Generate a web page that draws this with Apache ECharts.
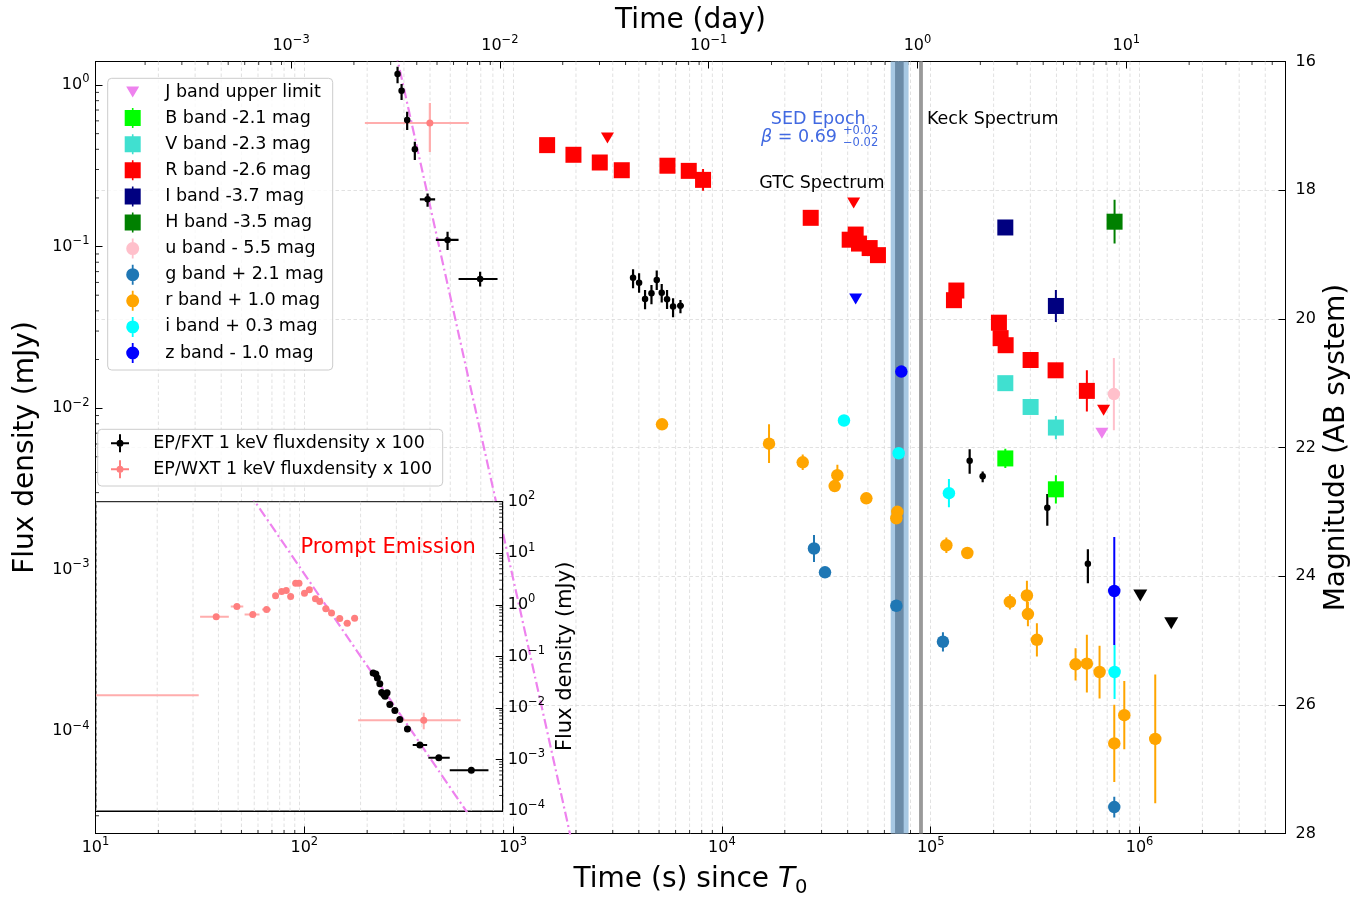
<!DOCTYPE html>
<html>
<head>
<meta charset="utf-8">
<title>Light curve</title>
<script src="https://cdn.jsdelivr.net/npm/echarts@6.0.0/dist/echarts.min.js"></script>
<style>
html,body{margin:0;padding:0;background:#ffffff;}
#chart{width:1369px;height:897px;}
</style>
</head>
<body>
<div id="chart"></div>
<script>
// ================= DATA =================
// axis ranges
var timeRange = [10, 5e6];            // seconds since T0
var fluxRange = [2.33e-5, 1.398];     // mJy
var magRange = [16, 28];              // AB mag
var insetTimeRange = [10, 1000];
var insetFluxRange = [1e-4, 100];
var SEC_PER_DAY = 86400;

// optical photometry: [time (s), AB magnitude, mag error]
var jUpper = [[660100, 21.78]];
var bandB = [[227600, 22.17, 0.15], [397500, 22.65, 0.22]];
var bandV = [[227600, 21.00], [300800, 21.37], [397500, 21.69, 0.18]];
var bandR = [[1455, 17.30], [1945, 17.45], [2600, 17.57], [3314, 17.69], [5484, 17.62], [6936, 17.70],
  [8121, 17.84, 0.17], [26620, 18.43], [40910, 18.77], [43700, 18.69], [45320, 18.83], [50990, 18.90],
  [55870, 19.01], [132640, 19.56], [129170, 19.71], [212100, 20.06], [216100, 20.30], [228400, 20.41],
  [300800, 20.64], [396200, 20.80], [559400, 21.12, 0.32]];
var rUpper = [[2830, 17.19], [42740, 18.20], [672500, 21.42]];
var bandI = [[227600, 18.58], [397500, 19.80, 0.25]];
var bandH = [[759200, 18.49, 0.34]];
var bandu = [[753400, 21.17, 0.56]];
var bandg = [[27600, 23.57, 0.21], [31160, 23.94], [68440, 24.46], [114400, 25.02, 0.15], [756800, 27.59, 0.16]];
var bandr = [[5166, 21.64], [16810, 21.94, 0.30], [24370, 22.23, 0.12], [35720, 22.43, 0.16], [34670, 22.60],
  [49160, 22.79], [69200, 23.00, 0.05], [68440, 23.10], [118800, 23.52, 0.12], [149700, 23.64],
  [239400, 24.40, 0.12], [288800, 24.30, 0.23], [292000, 24.59, 0.19], [322400, 24.99, 0.26],
  [493900, 25.37, 0.25], [559400, 25.36, 0.45], [643400, 25.49, 0.41], [756800, 26.60, 0.60],
  [845100, 26.16, 0.53], [1189000, 26.53, 1.00]];
var bandi = [[38420, 21.58], [70200, 22.09], [122200, 22.71, 0.22], [759200, 25.49, 0.42]];
var bandz = [[72320, 20.82], [756800, 24.23, 0.84]];
var zUpper = [[43700, 19.69]];

// X-ray flux density x100: [t, F (mJy), F low, F high, t low, t high]
var fxt = [[279.6, 1.170, 1.024, 1.298], [292.3, 0.922, 0.808, 1.014], [310.9, 0.607, 0.527, 0.683],
  [338.3, 0.400, 0.3436, 0.4456], [389.3, 0.1962, 0.1765, 0.2130, 357.6, 423.2],
  [485.3, 0.1099, 0.0953, 0.1234, 426.4, 547.9], [695.0, 0.0630, 0.0566, 0.0698, 547.9, 842.1],
  [3753, 0.0642, 0.0552, 0.0724], [4011, 0.0598, 0.0518, 0.0684], [4284, 0.0474, 0.0409, 0.0539],
  [4598, 0.0514, 0.0440, 0.0579], [4873, 0.0621, 0.0539, 0.0710], [5148, 0.0518, 0.0450, 0.0587],
  [5460, 0.0472, 0.0411, 0.0539], [5834, 0.0425, 0.0365, 0.0479], [6329, 0.0431, 0.0387, 0.0467, 6100, 6570],
  [153600, 4.73e-3, 3.92e-3, 5.57e-3], [177300, 3.79e-3, 3.48e-3, 4.05e-3],
  [361600, 2.42e-3, 1.87e-3, 2.94e-3], [565600, 1.09e-3, 8.25e-4, 1.34e-3]];
var fxtUpper = [[1008000, 6.92e-4], [1418000, 4.67e-4]];
var wxt = [[399.3, 0.582, 0.385, 0.774, 195.0, 613.7]];
var modelTime = [250, 1900];
var modelFlux = [2.736, 2.13e-5];

// inset (prompt emission): [t, F (mJy), F low, F high, t low, t high]
var insetWxt = [[5, 0.0175, null, null, 1, 32], [39, 0.589, 0.54, 0.64, 32.5, 45], [49.3, 0.93, 0.85, 1.02, 46, 53],
  [59, 0.65, 0.59, 0.71, 53.8, 63.7], [69, 0.81, 0.74, 0.89, 65.5, 72.5], [76.4, 1.50, 1.37, 1.64, 74, 79],
  [81.8, 1.81, 1.65, 1.98, 79.5, 84], [86.2, 1.90, 1.73, 2.08, 84, 88.5], [90.6, 1.45, 1.32, 1.59, 88.5, 93],
  [95.9, 2.63, 2.40, 2.88, 93.5, 98], [99.6, 2.63, 2.40, 2.88, 98, 101.5], [106, 1.68, 1.53, 1.84, 103, 109],
  [112, 1.96, 1.79, 2.15, 109, 115], [120, 1.31, 1.19, 1.43, 116, 124], [126, 1.16, 1.06, 1.27, 122, 130],
  [135, 0.84, 0.77, 0.92, 130, 140], [144, 0.69, 0.63, 0.76, 139, 149], [158, 0.54, 0.49, 0.59, 152, 164],
  [172, 0.44, 0.40, 0.48, 165, 179], [187, 0.55, 0.50, 0.60, 180, 194],
  [409, 0.00573, 0.00384, 0.00804, 194.5, 621]];
var insetFxt = [[230.6, 0.0478], [237.7, 0.0457], [242, 0.0382], [248.7, 0.0293], [254, 0.0200], [260, 0.0182],
  [264, 0.0169], [270, 0.0196], [278.6, 0.01167], [295, 0.00893], [312, 0.00598], [340, 0.00389],
  [391.5, 0.00190, null, null, 361, 425], [485, 0.00108, null, null, 431, 549], [701, 0.000618, null, null, 549, 851]];
var insetModelTime = [50, 800];
var insetModelFlux = [302.7, 3.33e-5];

// epochs
var sedBand = [64300, 78300];
var sedCore = [67470, 74190];
var keckTime = 90040;

// annotation texts anchored in data coordinates (time, magnitude)
var annotationText = ['SED Epoch', '{i|\u03b2} = 0.69', '+0.02', '\u22120.02', 'GTC Spectrum', 'Keck Spectrum'];
var annotationTime = [28910, 35560, 37990, 37990, 30110, 95900];
var annotationMag = [16.894, 17.174, 17.085, 17.264, 17.889, 16.894];
var insetText = ['Prompt Emission'];
var insetTextTime = [101.2];
var insetTextFlux = [12.88];

// ================= STYLE =================
var FONT = 'DejaVu Sans';
var GRID_COLOR = '#d9d9d9';
var DASH = [3.5, 2.5];
var TICK_FS = 16;

var annotationStyle = [
  {color: '#4169e1', size: 17.5, align: 'center'},
  {color: '#4169e1', size: 17.5, align: 'right'},
  {color: '#4169e1', size: 11.5, align: 'left'},
  {color: '#4169e1', size: 11.5, align: 'left'},
  {color: '#000000', size: 17.5, align: 'center'},
  {color: '#000000', size: 17.5, align: 'left'}
];

function powLabel(v) {
  var lg = Math.log10(v), n = Math.round(lg);
  if (Math.abs(lg - n) > 1e-6) return '';
  var e = n < 0 ? '\u2212' + (-n) : '' + n;
  return '{b|10}{s|' + e + '}';
}
var richPow = {
  b: {fontSize: TICK_FS, fontFamily: FONT, color: '#000'},
  s: {fontSize: 11.5, fontFamily: FONT, color: '#000', padding: [0, 0, 11, 0]}
};

function minorValues(lo, hi) {
  var out = [];
  for (var e = Math.floor(Math.log10(lo)) - 1; e <= Math.ceil(Math.log10(hi)); e++) {
    for (var k = 2; k <= 9; k++) {
      var v = k * Math.pow(10, e);
      if (v > lo * 1.0001 && v < hi * 0.9999) out.push(v);
    }
  }
  return out;
}

var blackLine = {show: true, lineStyle: {color: '#000', width: 1}};

// ---- decoration series (minor grid lines / minor ticks) ----
function xMinorSeries(values, xi, yi, yRef, z, withGrid, tickAtTop, tickLen) {
  return {
    type: 'custom', xAxisIndex: xi, yAxisIndex: yi, z: z, silent: true, clip: false,
    data: values.map(function (v) { return [v, yRef]; }),
    renderItem: function (params, api) {
      var cs = params.coordSys;
      var x = api.coord([api.value(0), yRef])[0];
      var top = cs.y, bottom = cs.y + cs.height;
      var ch = [];
      if (withGrid) ch.push({type: 'line', shape: {x1: x, y1: top, x2: x, y2: bottom},
        style: {stroke: GRID_COLOR, lineWidth: 0.8, lineDash: DASH}});
      if (tickLen > 0) {
        if (tickAtTop) ch.push({type: 'line', shape: {x1: x, y1: top, x2: x, y2: top + tickLen}, style: {stroke: '#000', lineWidth: 0.8}});
        else ch.push({type: 'line', shape: {x1: x, y1: bottom, x2: x, y2: bottom - tickLen}, style: {stroke: '#000', lineWidth: 0.8}});
      }
      return {type: 'group', children: ch};
    }
  };
}
function yMinorSeries(values, xi, yi, xRef, z, atRight) {
  return {
    type: 'custom', xAxisIndex: xi, yAxisIndex: yi, z: z, silent: true, clip: false,
    data: values.map(function (v) { return [xRef, v]; }),
    renderItem: function (params, api) {
      var cs = params.coordSys;
      var y = api.coord([xRef, api.value(1)])[1];
      var x0 = atRight ? cs.x + cs.width : cs.x;
      var x1 = atRight ? x0 - 3.5 : x0 + 3.5;
      return {type: 'line', shape: {x1: x0, y1: y, x2: x1, y2: y}, style: {stroke: '#000', lineWidth: 0.8}};
    }
  };
}

// ---- error bars ----
function errItemsMag(arr, color) {
  return arr.filter(function (d) { return d[2] != null; }).map(function (d) {
    return {t: d[0], y: d[1], lo: d[1] - d[2], hi: d[1] + d[2], color: color};
  });
}
function errItemsFlux(arr, color) {
  return arr.filter(function (d) { return d[2] != null || d[4] != null; }).map(function (d) {
    return {t: d[0], y: d[1], lo: d[2], hi: d[3], tlo: d[4], thi: d[5], color: color};
  });
}
function errSeries(items, xi, yi, lw, z) {
  return {
    type: 'custom', xAxisIndex: xi, yAxisIndex: yi, z: z, silent: true, clip: true,
    data: items.map(function (e) { return [e.t, e.y]; }),
    renderItem: function (params, api) {
      var e = items[params.dataIndex];
      var ch = [];
      if (e.lo != null) {
        var p1 = api.coord([e.t, e.lo]), p2 = api.coord([e.t, e.hi]);
        ch.push({type: 'line', shape: {x1: p1[0], y1: p1[1], x2: p2[0], y2: p2[1]}, style: {stroke: e.color, lineWidth: lw}});
      }
      if (e.tlo != null) {
        var q1 = api.coord([e.tlo, e.y]), q2 = api.coord([e.thi, e.y]);
        ch.push({type: 'line', shape: {x1: q1[0], y1: q1[1], x2: q2[0], y2: q2[1]}, style: {stroke: e.color, lineWidth: lw}});
      }
      return {type: 'group', children: ch};
    }
  };
}

function scatter(name, arr, xi, yi, color, symbol, size, z, extra) {
  var s = {
    type: 'scatter', name: name, xAxisIndex: xi, yAxisIndex: yi, z: z, silent: true, clip: true,
    data: arr.map(function (d) { return [d[0], d[1]]; }),
    symbol: symbol, symbolSize: size, itemStyle: {color: color, opacity: 1}
  };
  if (extra) for (var k in extra) s[k] = extra[k];
  return s;
}

function textSeries(texts, xs, ys, styles, xi, yi, z) {
  return {
    type: 'custom', xAxisIndex: xi, yAxisIndex: yi, z: z, silent: true, clip: false,
    data: texts.map(function (t, i) { return [xs[i], ys[i]]; }),
    renderItem: function (params, api) {
      var i = params.dataIndex, st = styles[i];
      var p = api.coord([xs[i], ys[i]]);
      return {type: 'text', x: p[0], y: p[1], style: {
        text: texts[i], fill: st.color, fontSize: st.size, fontFamily: FONT,
        align: st.align, verticalAlign: 'middle',
        rich: {i: {fontStyle: 'italic', fontSize: st.size, fontFamily: FONT, fill: st.color}}
      }};
    }
  };
}

// colours
var C = {J: '#ee82ee', B: '#00ff00', V: '#40e0d0', R: '#ff0000', I: '#000080', H: '#008000',
  u: '#ffc0cb', g: '#1f77b4', r: '#ffa500', i: '#00ffff', z: '#0000ff', fxt: '#000000',
  wxt: '#ff7f7f', wxtBar: '#ffadad'};

// legend icons, drawn in a (w x 20) box so that the marker sits at its centre
function pRect(x, y, w, h) { return 'M' + x + ',' + y + 'L' + (x + w) + ',' + y + 'L' + (x + w) + ',' + (y + h) + 'L' + x + ',' + (y + h) + 'Z '; }
function pCirc(cx, cy, r) { return 'M' + (cx - r) + ',' + cy + 'A' + r + ',' + r + ',0,1,1,' + (cx + r) + ',' + cy + 'A' + r + ',' + r + ',0,1,1,' + (cx - r) + ',' + cy + 'Z '; }
function pAnchor(w) { return 'M0,0L0.1,0L0,0.1Z M' + w + ',20L' + (w - 0.1) + ',20L' + w + ',19.9Z '; }
function iconTri(w) { var c = w / 2; return 'path://' + pAnchor(w) + 'M' + (c - 6.5) + ',4.5L' + (c + 6.5) + ',4.5L' + c + ',15.5Z'; }
function iconSq(w) { var c = w / 2; return 'path://' + pAnchor(w) + pRect(c - 8, 2, 16, 16) + pRect(c - 0.8, 0, 1.6, 2) + pRect(c - 0.8, 18, 1.6, 2); }
function iconCi(w) { var c = w / 2; return 'path://' + pAnchor(w) + pCirc(c, 10, 6.5) + pRect(c - 0.9, 0, 1.8, 3.8) + pRect(c - 0.9, 16.2, 1.8, 3.8); }
function iconX(w) { var c = w / 2; return 'path://' + pAnchor(w) + pCirc(c, 10, 3.5) + pRect(c - 1, 1, 2, 5.7) + pRect(c - 1, 13.3, 2, 5.7) + pRect(c - 9, 9, 5.7, 2) + pRect(c + 3.3, 9, 5.7, 2); }

var LW1 = 55, LW2 = 56.6;

var N = {J: 'J band upper limit', B: 'B band -2.1 mag', V: 'V band -2.3 mag', R: 'R band -2.6 mag',
  I: 'I band -3.7 mag', H: 'H band -3.5 mag', u: 'u band - 5.5 mag', g: 'g band + 2.1 mag',
  r: 'r band + 1.0 mag', i: 'i band + 0.3 mag', z: 'z band - 1.0 mag',
  fxt: 'EP/FXT 1 keV fluxdensity x 100', wxt: 'EP/WXT 1 keV fluxdensity x 100'};

var SQ = 16, CI = 12.5, TRI = [13, 11];
var down = {symbolRotate: 180};

var opticalErr = [].concat(
  errItemsMag(bandB, C.B), errItemsMag(bandV, C.V), errItemsMag(bandR, C.R), errItemsMag(bandI, C.I),
  errItemsMag(bandH, C.H), errItemsMag(bandu, C.u), errItemsMag(bandg, C.g), errItemsMag(bandr, C.r),
  errItemsMag(bandi, C.i), errItemsMag(bandz, C.z));
var xrayErr = [].concat(errItemsFlux(wxt, C.wxtBar), errItemsFlux(fxt, C.fxt));
var insetErr = [].concat(errItemsFlux(insetWxt, C.wxtBar), errItemsFlux(insetFxt, C.fxt));

var series = [
  xMinorSeries(minorValues(timeRange[0], timeRange[1]), 0, 0, 1e-2, 1, true, false, 3.5),
  xMinorSeries(minorValues(timeRange[0] / SEC_PER_DAY, timeRange[1] / SEC_PER_DAY), 1, 0, 1e-2, 1, false, true, 3.5),
  yMinorSeries(minorValues(fluxRange[0], fluxRange[1]), 0, 0, 100, 1, false),
  {
    type: 'line', name: 'epochs', xAxisIndex: 0, yAxisIndex: 0, z: 1.5, silent: true,
    data: [[1000, 1e-2]], symbol: 'none', lineStyle: {opacity: 0},
    markArea: {silent: true, z: 1.8, itemStyle: {opacity: 1}, data: [
      [{xAxis: sedBand[0], itemStyle: {color: '#a7c8e3', opacity: 1}}, {xAxis: sedBand[1]}],
      [{xAxis: sedCore[0], itemStyle: {color: '#6b8ba7', opacity: 1}}, {xAxis: sedCore[1]}]
    ]},
    markLine: {silent: true, z: 1.9, symbol: 'none', label: {show: false},
      lineStyle: {color: '#999999', width: 3.8, type: 'solid', opacity: 1}, data: [{xAxis: keckTime}]}
  },
  {
    type: 'line', name: 'model', xAxisIndex: 0, yAxisIndex: 0, z: 2, silent: true, clip: true,
    data: modelTime.map(function (t, i) { return [t, modelFlux[i]]; }), symbol: 'none',
    lineStyle: {color: C.J, width: 2.2, type: [10, 3.5, 2, 3.5]}
  },
  errSeries(xrayErr, 0, 0, 2.2, 2.5),
  errSeries(opticalErr, 0, 1, 2, 2.5),
  scatter(N.wxt, wxt, 0, 0, C.wxt, 'circle', 7, 3),
  scatter(N.fxt, fxt, 0, 0, C.fxt, 'circle', 6.5, 3),
  scatter('FXT upper limit', fxtUpper, 0, 0, C.fxt, 'triangle', [14, 12], 3, down),
  scatter(N.J, jUpper, 0, 1, C.J, 'triangle', TRI, 3, down),
  scatter(N.B, bandB, 0, 1, C.B, 'rect', SQ, 3),
  scatter(N.V, bandV, 0, 1, C.V, 'rect', SQ, 3),
  scatter(N.R, bandR, 0, 1, C.R, 'rect', SQ, 3),
  scatter('R band upper limit', rUpper, 0, 1, C.R, 'triangle', TRI, 3, down),
  scatter(N.I, bandI, 0, 1, C.I, 'rect', SQ, 3),
  scatter(N.H, bandH, 0, 1, C.H, 'rect', SQ, 3),
  scatter(N.u, bandu, 0, 1, C.u, 'circle', CI, 3),
  scatter(N.g, bandg, 0, 1, C.g, 'circle', CI, 3),
  scatter(N.r, bandr, 0, 1, C.r, 'circle', CI, 3),
  scatter(N.i, bandi, 0, 1, C.i, 'circle', CI, 3),
  scatter(N.z, bandz, 0, 1, C.z, 'circle', CI, 3),
  scatter('z band upper limit', zUpper, 0, 1, C.z, 'triangle', TRI, 3, down),
  textSeries(annotationText, annotationTime, annotationMag, annotationStyle, 0, 1, 4),
  // ---- inset ----
  xMinorSeries(minorValues(insetTimeRange[0], insetTimeRange[1]), 2, 2, 1, 7.5, true, false, 0),
  yMinorSeries(minorValues(insetFluxRange[0], insetFluxRange[1]), 2, 2, 100, 7.5, true),
  {
    type: 'line', name: 'inset model', xAxisIndex: 2, yAxisIndex: 2, z: 8, silent: true, clip: true,
    data: insetModelTime.map(function (t, i) { return [t, insetModelFlux[i]]; }), symbol: 'none',
    lineStyle: {color: C.J, width: 2.2, type: [10, 3.5, 2, 3.5]}
  },
  errSeries(insetErr, 2, 2, 2, 8.2),
  scatter('inset WXT', insetWxt, 2, 2, C.wxt, 'circle', 7, 8.5),
  scatter('inset FXT', insetFxt, 2, 2, C.fxt, 'circle', 7, 8.5),
  textSeries(insetText, insetTextTime, insetTextFlux, [{color: '#ff0000', size: 21, align: 'left'}], 2, 2, 9)
];

var legendText = {fontFamily: FONT, fontSize: 17.5, lineHeight: 20, color: '#000'};

var option = {
  animation: false,
  backgroundColor: '#ffffff',
  textStyle: {fontFamily: FONT},
  grid: [
    {left: 95.5, top: 61.5, width: 1190, height: 772, show: true, borderColor: '#000', borderWidth: 1,
      backgroundColor: 'transparent', containLabel: false, outerBoundsMode: 'none', z: 0},
    {left: 96, top: 501.7, width: 406.7, height: 309.3, show: true, borderColor: '#000', borderWidth: 1,
      backgroundColor: '#ffffff', containLabel: false, outerBoundsMode: 'none', z: 6}
  ],
  xAxis: [
    {type: 'log', gridIndex: 0, min: timeRange[0], max: timeRange[1], position: 'bottom',
      axisLine: blackLine, axisTick: {show: true, inside: true, length: 7, lineStyle: {color: '#000', width: 1}},
      axisLabel: {formatter: powLabel, rich: richPow, margin: 3, color: '#000'},
      splitLine: {show: true, lineStyle: {color: GRID_COLOR, width: 0.8, type: DASH}},
      name: 'Time (s) since {it|T}{sub|0}', nameLocation: 'middle', nameGap: 28, nameMoveOverlap: false,
      nameTextStyle: {fontSize: 28, fontFamily: FONT, color: '#000',
        rich: {it: {fontSize: 28, fontStyle: 'italic', fontFamily: FONT, color: '#000'},
          sub: {fontSize: 19.5, fontFamily: FONT, color: '#000', padding: [16, 0, 0, 0]}}}},
    {type: 'log', gridIndex: 0, min: timeRange[0] / SEC_PER_DAY, max: timeRange[1] / SEC_PER_DAY, position: 'top',
      axisLine: blackLine, axisTick: {show: true, inside: true, length: 7, lineStyle: {color: '#000', width: 1}},
      axisLabel: {formatter: powLabel, rich: richPow, margin: 4, color: '#000'},
      splitLine: {show: false},
      name: 'Time (day)', nameLocation: 'middle', nameGap: 27, nameMoveOverlap: false,
      nameTextStyle: {fontSize: 28, fontFamily: FONT, color: '#000'}},
    {type: 'log', gridIndex: 1, min: insetTimeRange[0], max: insetTimeRange[1], z: 7,
      axisLine: blackLine, axisTick: {show: false}, axisLabel: {show: false},
      splitLine: {show: true, lineStyle: {color: GRID_COLOR, width: 0.8, type: DASH}}}
  ],
  yAxis: [
    {type: 'log', gridIndex: 0, min: fluxRange[0], max: fluxRange[1], position: 'left',
      axisLine: blackLine, axisTick: {show: true, inside: true, length: 7, lineStyle: {color: '#000', width: 1}},
      axisLabel: {formatter: powLabel, rich: richPow, margin: 6, color: '#000'},
      splitLine: {show: false},
      name: 'Flux density (mJy)', nameLocation: 'middle', nameGap: 56, nameMoveOverlap: false,
      nameTextStyle: {fontSize: 28, fontFamily: FONT, color: '#000'}},
    {type: 'value', gridIndex: 0, min: magRange[0], max: magRange[1], interval: 2, inverse: true, position: 'right',
      axisLine: blackLine, axisTick: {show: true, inside: true, length: 7, lineStyle: {color: '#000', width: 1}},
      axisLabel: {fontSize: TICK_FS, fontFamily: FONT, color: '#000', margin: 10},
      splitLine: {show: true, lineStyle: {color: GRID_COLOR, width: 0.8, type: DASH}},
      name: 'Magnitude (AB system)', nameLocation: 'middle', nameGap: 37, nameMoveOverlap: false,
      nameTextStyle: {fontSize: 28, fontFamily: FONT, color: '#000'}},
    {type: 'log', gridIndex: 1, min: insetFluxRange[0], max: insetFluxRange[1], position: 'right', z: 7,
      axisLine: blackLine, axisTick: {show: true, inside: true, length: 7, lineStyle: {color: '#000', width: 1}},
      axisLabel: {formatter: powLabel, rich: richPow, margin: 5, color: '#000'},
      splitLine: {show: false},
      name: 'Flux density (mJy)', nameLocation: 'middle', nameGap: 52, nameMoveOverlap: false,
      nameTextStyle: {fontSize: 21, fontFamily: FONT, color: '#000'}}
  ],
  graphic: [
    {type: 'rect', z: 11, silent: true, shape: {x: 107.7, y: 78.3, width: 225, height: 291.7, r: 4},
      style: {fill: 'rgba(255,255,255,0.8)', stroke: '#cccccc', lineWidth: 1}},
    {type: 'rect', z: 11, silent: true, shape: {x: 97.7, y: 429.3, width: 345, height: 56.7, r: 4},
      style: {fill: 'rgba(255,255,255,0.8)', stroke: '#cccccc', lineWidth: 1}}
  ],
  legend: [
    {orient: 'vertical', left: 105.2, top: 82, itemWidth: LW1, itemHeight: 20, itemGap: 6.1, padding: 0,
      selectedMode: false, z: 12, textStyle: legendText, symbolKeepAspect: true,
      data: [
        {name: N.J, icon: iconTri(LW1)}, {name: N.B, icon: iconSq(LW1)}, {name: N.V, icon: iconSq(LW1)},
        {name: N.R, icon: iconSq(LW1)}, {name: N.I, icon: iconSq(LW1)}, {name: N.H, icon: iconSq(LW1)},
        {name: N.u, icon: iconCi(LW1)}, {name: N.g, icon: iconCi(LW1)}, {name: N.r, icon: iconCi(LW1)},
        {name: N.i, icon: iconCi(LW1)}, {name: N.z, icon: iconCi(LW1)}
      ]},
    {orient: 'vertical', left: 91.7, top: 433.3, itemWidth: LW2, itemHeight: 20, itemGap: 6, padding: 0,
      selectedMode: false, z: 12, textStyle: legendText, symbolKeepAspect: true,
      data: [{name: N.fxt, icon: iconX(LW2)}, {name: N.wxt, icon: iconX(LW2)}]}
  ],
  series: series
};

var chart = echarts.init(document.getElementById('chart'), null, {renderer: 'canvas', width: 1369, height: 897});
chart.setOption(option);
</script>
</body>
</html>
